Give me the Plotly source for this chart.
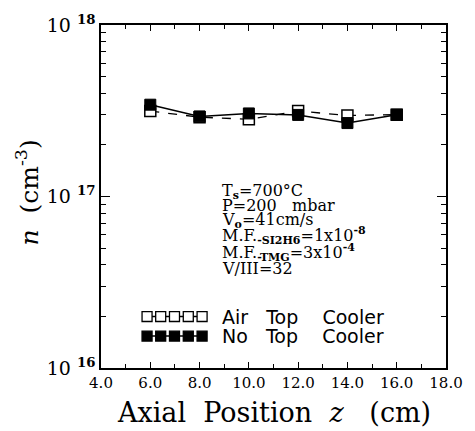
import plotly.graph_objects as go

# ---- data ----
z_pos = [6.0, 8.0, 10.0, 12.0, 14.0, 16.0]
air_top_cooler = [3.15e17, 2.90e17, 2.82e17, 3.15e17, 2.97e17, 3.00e17]
no_top_cooler = [3.43e17, 2.93e17, 3.05e17, 2.99e17, 2.68e17, 3.00e17]
x_ticks = [4.0, 6.0, 8.0, 10.0, 12.0, 14.0, 16.0, 18.0]
y_ticks = [1e16, 1e17, 1e18]
y_tick_text = ["10 <sup><b>16</b></sup>", "10 <sup><b>17</b></sup>", "10 <sup><b>18</b></sup>"]
NB = "\u00a0"
legend_labels = ["Air" + NB * 3 + "Top" + NB * 4 + "Cooler", "No" + NB * 3 + "Top" + NB * 4 + "Cooler"]
SUB = "<sub><span style='font-size:11px'><b>{}</b></span></sub>"
SUP = "<sup><span style='font-size:11px'><b>{}</b></span></sup>"
conditions = [
    "T" + SUB.format("s") + "=700°C",
    "P=200" + NB * 3 + "mbar",
    "V" + SUB.format("o") + "=41cm/s",
    "M.F." + SUB.format("-SI2H6") + "=1x10" + SUP.format("-8"),
    "M.F." + SUB.format("-TMG") + "=3x10" + SUP.format("-4"),
    "V/III=32",
]

SERIF = "DejaVu Serif"
fig = go.Figure()

fig.add_trace(go.Scatter(
    x=z_pos, y=air_top_cooler, mode="lines+markers", name="Air Top Cooler",
    line=dict(color="black", width=1.3, dash="dash"),
    marker=dict(symbol="square", size=11, color="white", line=dict(color="black", width=1.5)),
    showlegend=False,
))
fig.add_trace(go.Scatter(
    x=z_pos, y=no_top_cooler, mode="lines+markers", name="No Top Cooler",
    line=dict(color="black", width=1.5),
    marker=dict(symbol="square", size=11, color="black", line=dict(color="black", width=1)),
    showlegend=False,
))

# ---- legend built by hand (five-square glyphs) ----
leg_rows = [0.150, 0.093]
leg_x = [0.1335, 0.173, 0.213, 0.253, 0.293]
sq_w, sq_h = 0.029, 0.029
shapes = []
for r, yc in enumerate(leg_rows):
    shapes.append(dict(type="line", xref="paper", yref="paper", x0=leg_x[0], x1=leg_x[-1],
                       y0=yc, y1=yc, line=dict(color="black", width=1.5)))
    for xc in leg_x:
        shapes.append(dict(type="rect", xref="paper", yref="paper",
                           x0=xc - sq_w / 2, x1=xc + sq_w / 2, y0=yc - sq_h / 2, y1=yc + sq_h / 2,
                           fillcolor="white" if r == 0 else "black",
                           line=dict(color="black", width=1.3)))

annotations = []
for yc, lab in zip(leg_rows, legend_labels):
    annotations.append(dict(text=lab, xref="paper", yref="paper", x=0.344, y=yc,
                            xanchor="left", yanchor="middle", showarrow=False,
                            font=dict(family="DejaVu Sans", size=19, color="black")))

cond_y = [0.516, 0.473, 0.431, 0.385, 0.337, 0.289]
for yc, t in zip(cond_y, conditions):
    annotations.append(dict(text=t, xref="paper", yref="paper", x=0.344, y=yc,
                            xanchor="left", yanchor="middle", showarrow=False,
                            font=dict(family=SERIF, size=16, color="black")))

annotations.append(dict(text="Axial" + NB * 2 + "Position" + NB * 2 + "<i>z</i>" + NB * 3 + "(cm)",
                        xref="paper", yref="paper", x=0.50, y=-0.130,
                        xanchor="center", yanchor="middle", showarrow=False,
                        font=dict(family=SERIF, size=27, color="black")))
annotations.append(dict(text="<i>n</i>" + NB * 2 + "(cm<sup>-3</sup>)",
                        xref="paper", yref="paper", x=-0.213, y=0.51, textangle=-90,
                        xanchor="center", yanchor="middle", showarrow=False,
                        font=dict(family=SERIF, size=25, color="black")))

fig.update_layout(
    width=475, height=431,
    margin=dict(l=101, r=22, t=15, b=63),
    paper_bgcolor="white", plot_bgcolor="white",
    shapes=shapes, annotations=annotations,
    showlegend=False,
)
fig.update_xaxes(
    range=[4, 18], tickvals=x_ticks, tickformat=".1f",
    ticks="inside", ticklen=6, tickwidth=1.3, tickcolor="black",
    minor=dict(dtick=1, ticks="inside", ticklen=4, tickwidth=1.2, tickcolor="black"),
    showline=True, linecolor="black", linewidth=1.5, mirror="allticks",
    showgrid=False, zeroline=False,
    tickfont=dict(family=SERIF, size=15, color="black"),
)
minor_y = [m * 10 ** e for e in (16, 17) for m in range(2, 10)]
fig.update_yaxes(
    type="log", range=[16, 18], tickvals=y_ticks, ticktext=y_tick_text,
    ticks="inside", ticklen=9, tickwidth=1.3, tickcolor="black",
    minor=dict(tickvals=minor_y, ticks="inside", ticklen=5, tickwidth=1.2, tickcolor="black"),
    showline=True, linecolor="black", linewidth=1.5, mirror="allticks",
    showgrid=False, zeroline=False,
    tickfont=dict(family=SERIF, size=19, color="black"),
)

fig.write_html("out.html")
